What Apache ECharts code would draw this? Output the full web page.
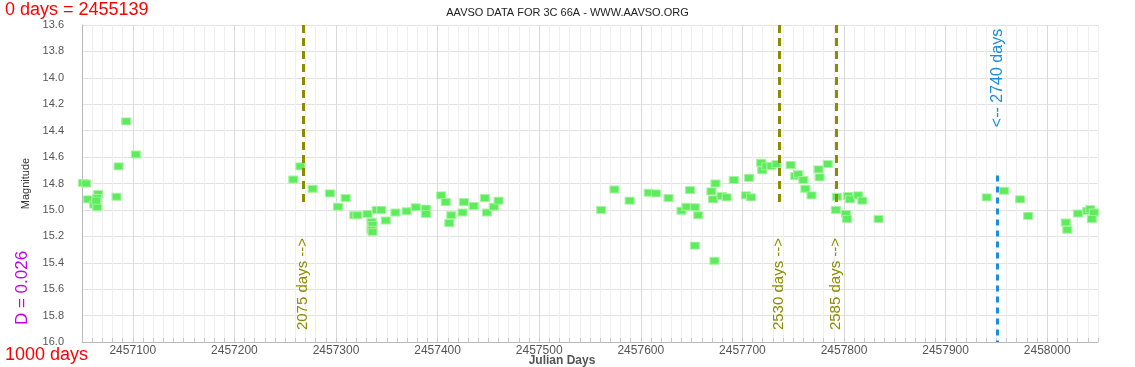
<!DOCTYPE html>
<html>
<head>
<meta charset="utf-8">
<script src="https://cdn.jsdelivr.net/npm/echarts@6/dist/echarts.min.js"></script>
<style>
html,body{margin:0;padding:0;background:#fff;}
#chart{width:1135px;height:367px;}
</style>
</head>
<body>
<div id="chart"></div>
<script>
// ---- data ----
const jd = [
  2457051, 2457054, 2457056, 2457062, 2457065, 2457066, 2457065, 2457064, 2457084, 2457086, 2457093.5, 2457103,
  2457258, 2457265, 2457277, 2457294, 2457302, 2457309.5, 2457318, 2457321, 2457331, 2457335, 2457336, 2457335, 2457336,
  2457340, 2457344.5, 2457349, 2457358.5, 2457369.5, 2457378.5, 2457388.5, 2457388.5, 2457403.5, 2457408, 2457413.5, 2457411.5,
  2457426, 2457424.5, 2457435.5, 2457446.5, 2457448.5, 2457455.5, 2457460,
  2457561, 2457574, 2457589, 2457607.8, 2457614.8, 2457627.3, 2457640, 2457645, 2457648.5, 2457653.2, 2457656.5, 2457653.2,
  2457672.5, 2457669.5, 2457671.1, 2457673.5, 2457679.5, 2457684.5, 2457691.5, 2457703.5, 2457708.5, 2457706.5, 2457718.5, 2457719.5, 2457723.5,
  2457728.5, 2457733.5, 2457747.5, 2457752, 2457755, 2457760, 2457762, 2457768, 2457775, 2457776, 2457784, 2457793, 2457792,
  2457804, 2457806, 2457802, 2457803, 2457814, 2457818, 2457834,
  2457940.5, 2457957.5, 2457973.3, 2457981.3, 2458018.3, 2458019.8, 2458030.3, 2458039.5, 2458042.5, 2458045.9, 2458043.9
];
const mag = [
  14.795, 14.80, 14.92, 14.96, 14.98, 14.88, 14.91, 14.93, 14.90, 14.67, 14.33, 14.58,
  14.77, 14.67, 14.84, 14.875, 14.976, 14.91, 15.04, 15.04, 15.03, 15.09, 15.115, 15.15, 15.166,
  15.00, 15.00, 15.08, 15.02, 15.01, 14.98, 14.99, 15.03, 14.89, 14.94, 15.04, 15.10,
  14.94, 15.02, 14.97, 14.91, 15.02, 14.976, 14.93,
  15.00, 14.845, 14.93, 14.87, 14.875, 14.91, 15.006, 14.976, 14.85, 14.98, 15.04, 15.27,
  15.385, 14.86, 14.92, 14.80, 14.895, 14.905, 14.774, 14.89, 14.905, 14.757, 14.643, 14.70, 14.67,
  14.668, 14.653, 14.66, 14.744, 14.73, 14.774, 14.84, 14.89, 14.693, 14.754, 14.653, 14.90, 15.00,
  14.895, 14.92, 15.03, 15.07, 14.89, 14.93, 15.07,
  14.905, 14.855, 14.92, 15.045, 15.095, 15.15, 15.027, 15.007, 14.994, 15.02, 15.07
];
const xMajorTicks = [2457100, 2457200, 2457300, 2457400, 2457500, 2457600, 2457700, 2457800, 2457900, 2458000];
const oliveMarkJD = [2457267.5, 2457736, 2457792];
const oliveMarkText = ['2075 days -->', '2530 days -->', '2585 days -->'];
const oliveMarkEnd = 14.96;
const blueMarkJD = [2457951];
const blueMarkText = ['<-- 2740 days'];
const blueMarkStart = 14.74;

const X_MIN = 2457050, X_MAX = 2458050;
const Y_MIN = 13.6, Y_MAX = 16.0;

const points = jd.map((x, i) => [x, mag[i]]);
const FONT = '"Liberation Sans", Arial, sans-serif';
const OLIVE = '#8c8c00';
const BLUE = '#1a8ed8';

const chart = echarts.init(document.getElementById('chart'));
const option = {
  animation: false,
  backgroundColor: '#fff',
  title: {
    text: 'AAVSO DATA FOR 3C 66A - WWW.AAVSO.ORG',
    left: 'center', top: 2,
    textStyle: { fontSize: 11, fontWeight: 'normal', color: '#222', fontFamily: FONT }
  },
  grid: { left: 82, right: 37, top: 25, bottom: 25 },
  xAxis: [
    {
      type: 'value', min: X_MIN, max: X_MAX, interval: 10, position: 'bottom',
      axisLine: { show: true, lineStyle: { color: '#b8b8b8', width: 1 } },
      axisTick: { show: true, inside: true, length: 4, lineStyle: { color: '#c8c8c8' } },
      axisLabel: { show: false },
      splitLine: { show: true, lineStyle: { color: '#efefef', width: 1 } }
    },
    {
      type: 'value', min: X_MIN, max: X_MAX, position: 'bottom', offset: 0,
      axisLine: { show: false },
      axisTick: { show: false, customValues: xMajorTicks },
      axisLabel: {
        show: true, customValues: xMajorTicks, margin: 3,
        color: '#555', fontSize: 12, fontFamily: FONT,
        formatter: v => String(Math.round(v))
      },
      splitLine: { show: true, lineStyle: { color: '#d9d9d9', width: 1 } }
    }
  ],
  yAxis: {
    type: 'value', inverse: true, min: Y_MIN, max: Y_MAX, interval: 0.2,
    name: 'Magnitude', nameLocation: 'middle', nameGap: 48,
    nameTextStyle: { fontSize: 11, color: '#333', fontFamily: '"Liberation Sans Narrow", "Arial Narrow", ' + FONT },
    axisLine: { show: true, lineStyle: { color: '#b8b8b8' } },
    axisTick: { show: false },
    axisLabel: { color: '#555', fontSize: 11, margin: 18, fontFamily: FONT, formatter: v => v.toFixed(1) },
    splitLine: { show: true, lineStyle: { color: '#e2e2e2', width: 1 } }
  },
  series: [
    {
      type: 'scatter', xAxisIndex: 0, data: points,
      symbol: 'rect', symbolSize: [9, 7], z: 3,
      itemStyle: { color: '#5eec5e', borderColor: '#a6f3a0', borderWidth: 1, opacity: 1 }
    },
    {
      type: 'line', xAxisIndex: 0, data: [], silent: true, z: 4,
      markLine: {
        silent: true, symbol: ['none', 'none'], animation: false,
        label: { show: false },
        data: oliveMarkJD.map(x => [
          { coord: [x, Y_MIN], lineStyle: { color: OLIVE, width: 3, type: [8, 5] } },
          { coord: [x, oliveMarkEnd] }
        ]).concat(blueMarkJD.map(x => [
          { coord: [x, blueMarkStart], lineStyle: { color: BLUE, width: 3, type: [6, 5] } },
          { coord: [x, Y_MAX] }
        ]))
      }
    }
  ]
};
chart.setOption(option);

// annotation texts placed through the chart's own scales
const graphics = [
  { type: 'text', left: 5, top: 1, style: { text: '0 days = 2455139', fill: '#ff0000', fontSize: 18, fontFamily: FONT } },
  { type: 'text', left: 5, top: 346, style: { text: '1000 days', fill: '#ff0000', fontSize: 18, fontFamily: FONT } },
  { type: 'text', x: 22, y: 288, rotation: Math.PI / 2,
    style: { text: 'D = 0.026', fill: '#c400e8', fontSize: 17, fontFamily: FONT, align: 'center', verticalAlign: 'middle' } },
  { type: 'text', x: 562, y: 361,
    style: { text: 'Julian Days', fill: '#555', fontSize: 12, fontWeight: 'bold', fontFamily: FONT, align: 'center', verticalAlign: 'middle' } }
];
oliveMarkJD.forEach((x, i) => {
  const p = chart.convertToPixel({ xAxisIndex: 0, yAxisIndex: 0 }, [x, 15.6]);
  graphics.push({ type: 'text', x: p[0], y: 284, rotation: Math.PI / 2,
    style: { text: oliveMarkText[i], fill: OLIVE, fontSize: 15, fontFamily: FONT, align: 'center', verticalAlign: 'middle' } });
});
blueMarkJD.forEach((x, i) => {
  const p = chart.convertToPixel({ xAxisIndex: 0, yAxisIndex: 0 }, [x, 14.0]);
  graphics.push({ type: 'text', x: p[0], y: 78, rotation: Math.PI / 2,
    style: { text: blueMarkText[i], fill: BLUE, fontSize: 16, fontFamily: FONT, align: 'center', verticalAlign: 'middle' } });
});
chart.setOption({ graphic: graphics });
</script>
</body>
</html>
